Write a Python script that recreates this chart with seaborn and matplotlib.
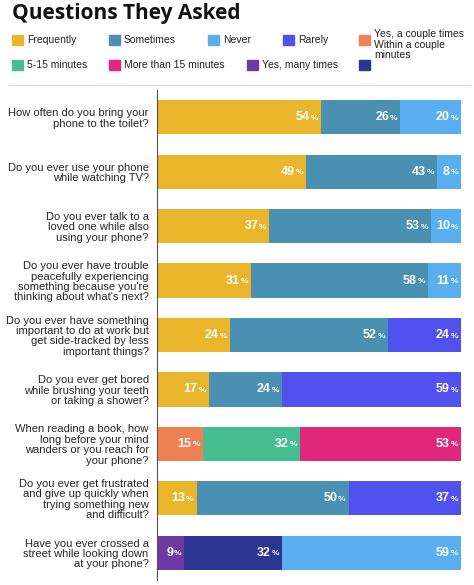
import matplotlib
matplotlib.use("Agg")
import matplotlib.pyplot as plt
from matplotlib.patches import Rectangle
import seaborn as sns

sns.set_theme(style="white")
plt.rcParams['font.family'] = ['Liberation Sans', 'DejaVu Sans']

questions = [
    "How often do you bring your\nphone to the toilet?",
    "Do you ever use your phone\nwhile watching TV?",
    "Do you ever talk to a\nloved one while also\nusing your phone?",
    "Do you ever have trouble\npeacefully experiencing\nsomething because you're\nthinking about what's next?",
    "Do you ever have something\nimportant to do at work but\nget side-tracked by less\nimportant things?",
    "Do you ever get bored\nwhile brushing your teeth\nor taking a shower?",
    "When reading a book, how\nlong before your mind\nwanders or you reach for\nyour phone?",
    "Do you ever get frustrated\nand give up quickly when\ntrying something new\nand difficult?",
    "Have you ever crossed a\nstreet while looking down\nat your phone?",
]
segments = [
    [("Frequently", 54), ("Sometimes", 26), ("Never", 20)],
    [("Frequently", 49), ("Sometimes", 43), ("Never", 8)],
    [("Frequently", 37), ("Sometimes", 53), ("Never", 10)],
    [("Frequently", 31), ("Sometimes", 58), ("Never", 11)],
    [("Frequently", 24), ("Sometimes", 52), ("Rarely", 24)],
    [("Frequently", 17), ("Sometimes", 24), ("Rarely", 59)],
    [("Within a couple\nminutes", 15), ("5-15 minutes", 32), ("More than 15 minutes", 53)],
    [("Frequently", 13), ("Sometimes", 50), ("Rarely", 37)],
    [("Yes, many times", 9), ("Yes, a couple times", 32), ("Never", 59)],
]
colors = {
    "Frequently": "#E9B52B",
    "Sometimes": "#4A90B2",
    "Never": "#58AEEE",
    "Rarely": "#5151EE",
    "Within a couple\nminutes": "#EE8252",
    "5-15 minutes": "#46BE92",
    "More than 15 minutes": "#E0287A",
    "Yes, many times": "#6B3AA2",
    "Yes, a couple times": "#2B3592",
}
legend_rows = [
    ["Frequently", "Sometimes", "Never", "Rarely", "Within a couple\nminutes"],
    ["5-15 minutes", "More than 15 minutes", "Yes, many times", "Yes, a couple times"],
]
legend_x = [[12, 109, 208, 283, 359], [12, 109, 247, 359]]

W, H = 474, 585
fig = plt.figure(figsize=(W / 100, H / 100), dpi=100)
ax = fig.add_axes([157 / W, 5 / H, 304 / W, 490 / H])

for i, segs in enumerate(segments):
    left = 0
    for cat, val in segs:
        ax.barh(i, val, left=left, height=0.63, color=colors[cat], edgecolor="none")
        end = left + val
        ax.annotate("%", (end, i), xytext=(-2, -0.8), textcoords="offset points",
                    ha="right", va="center", color="white", fontsize=6, fontweight="bold")
        ax.annotate(str(val), (end, i), xytext=(-8, 0), textcoords="offset points",
                    ha="right", va="center", color="white", fontsize=9, fontweight="bold")
        left = end

ax.set_xlim(0, 100)
ax.set_ylim(len(questions) - 0.5, -0.5)
ax.set_yticks(range(len(questions)))
ax.set_yticklabels(questions, fontsize=8, linespacing=1.05)
ax.set_xticks([])
ax.tick_params(axis="y", length=0, pad=6)
sns.despine(ax=ax, top=True, right=True, bottom=True, left=False)
ax.spines["left"].set_color("#555555")
ax.spines["left"].set_linewidth(0.8)

fig.text(12 / W, 1 - 14 / H, "Questions They Asked", fontsize=15, fontweight="bold",
         color="#111111", va="center", family=["Open Sans", "DejaVu Sans"])

# hand-placed legend, flowing like the original
for row, ypix, xs in zip(legend_rows, [40, 65], legend_x):
    for cat, xpix in zip(row, xs):
        fig.add_artist(Rectangle((xpix / W, 1 - (ypix + 5) / H), 11 / W, 10 / H,
                                 transform=fig.transFigure, color=colors[cat]))
        fig.text((xpix + 15) / W, 1 - ypix / H, cat, fontsize=7.5, va="top" if "\n" in cat else "center",
                 color="#222222", linespacing=1.0)
fig.texts[-1].set_y(1 - 34 / H)
fig.add_artist(plt.Line2D([8 / W, 470 / W], [1 - 85 / H, 1 - 85 / H], color="#dddddd", lw=1))

fig.savefig("out.png", dpi=100)
